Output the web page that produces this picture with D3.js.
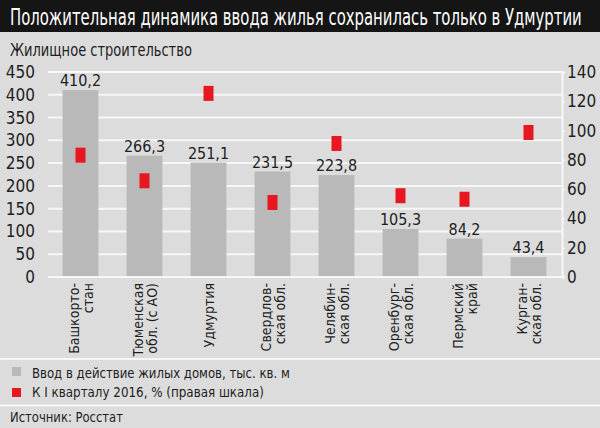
<!DOCTYPE html>
<html>
<head>
<meta charset="utf-8">
<script src="https://cdn.jsdelivr.net/npm/d3@7"></script>
<style>
  body { margin: 0; background: #dcdcdc; }
  text { font-family: "Liberation Sans Narrow", "DejaVu Sans Condensed", "Roboto", sans-serif; fill: #1e1e1e; }
</style>
</head>
<body>
<div id="chart"></div>
<script>
// regions, lines of the rotated label
let regions = [
    ["Башкорто-", "стан"],
    ["Тюменская", "обл. (с АО)"],
    ["Удмуртия"],
    ["Свердлов-", "ская обл."],
    ["Челябин-", "ская обл."],
    ["Оренбург-", "ская обл."],
    ["Пермский", "край"],
    ["Курган-", "ская обл."]
];
// housing put into service, thousand sq. m
let housing = [410.2, 266.3, 251.1, 231.5, 223.8, 105.3, 84.2, 43.4];
// % of Q1 2016 (right scale)
let percent = [83.2, 65.7, 125.4, 50.9, 91.2, 55.5, 53.1, 98.7];
let leftTicks = [0, 50, 100, 150, 200, 250, 300, 350, 400, 450];
let rightTicks = [0, 20, 40, 60, 80, 100, 120, 140];
let housingLabels = ["410,2", "266,3", "251,1", "231,5", "223,8", "105,3", "84,2", "43,4"];

let svgWidth = 600, svgHeight = 428;
let svg = d3.select("#chart").append("svg")
    .attr("width", svgWidth)
    .attr("height", svgHeight);

svg.append("rect").attr("width", svgWidth).attr("height", svgHeight).attr("fill", "#dcdcdc");

// squeeze a text horizontally so it takes the width seen in the picture
let fitText = function (px, py, size, w, str, color) {
    let t = svg.append("text")
        .attr("x", 0).attr("y", 0)
        .attr("style", "font-size:" + size + "px" + (color ? ";fill:" + color : ""))
        .text(str);
    let k = w / t.node().getComputedTextLength();
    t.attr("transform", "translate(" + px + "," + py + ") scale(" + k + ",1)");
    return t;
};

// title band
svg.append("rect").attr("width", svgWidth).attr("height", 32).attr("fill", "#151515");
fitText(10, 25, 23, 572, "Положительная динамика ввода жилья сохранилась только в Удмуртии", "#ffffff");
fitText(10, 56, 17.5, 182, "Жилищное строительство");

let x = d3.scaleBand().domain(d3.range(regions.length)).range([48.5, 560.5]).paddingInner(0.44).paddingOuter(0.22);
let yLeft = d3.scaleLinear().domain([0, 450]).range([277, 72]);
let yRight = d3.scaleLinear().domain([0, 140]).range([277, 72]);

// gridlines
svg.append("g")
    .selectAll("line")
    .data(leftTicks)
    .enter().append("line")
    .attr("x1", 48).attr("x2", 562)
    .attr("y1", d => yLeft(d)).attr("y2", d => yLeft(d))
    .attr("stroke", "#f7f7f7").attr("stroke-width", 2);

// left axis labels
let leftAxis = svg.append("g")
    .attr("transform", "translate(35,0)")
    .call(d3.axisLeft(yLeft).tickValues(leftTicks).tickSize(0).tickPadding(0));
leftAxis.select(".domain").remove();
leftAxis.selectAll("text").attr("style", "font-size:17px").attr("font-family", null);

// right axis
let rightAxis = svg.append("g")
    .attr("transform", "translate(562,0)")
    .call(d3.axisRight(yRight).tickValues(rightTicks).tickSize(3).tickPadding(2));
rightAxis.select(".domain").attr("stroke", "#f7f7f7").attr("stroke-width", 2);
rightAxis.selectAll("line").attr("stroke", "#f7f7f7").attr("stroke-width", 1.5);
rightAxis.selectAll("text").attr("style", "font-size:17px").attr("font-family", null);

// bars
svg.selectAll(".housingBar")
    .data(housing)
    .enter().append("rect")
    .attr("class", "housingBar")
    .attr("fill", "#b9b9b9")
    .attr("x", (d, i) => x(i))
    .attr("y", d => yLeft(d))
    .attr("width", x.bandwidth())
    .attr("height", d => yLeft(0) - yLeft(d));

// baseline
svg.append("line")
    .attr("x1", 48).attr("x2", 562)
    .attr("y1", yLeft(0)).attr("y2", yLeft(0))
    .attr("stroke", "#f7f7f7").attr("stroke-width", 2);

// value labels
svg.selectAll(".housingLabel")
    .data(housing)
    .enter().append("text")
    .attr("class", "housingLabel")
    .attr("x", (d, i) => x(i) + x.bandwidth() / 2)
    .attr("y", d => yLeft(d) - 4)
    .attr("text-anchor", "middle")
    .attr("style", "font-size:16px")
    .text((d, i) => housingLabels[i]);

// percent markers
svg.selectAll(".pctMark")
    .data(percent)
    .enter().append("rect")
    .attr("class", "pctMark")
    .attr("fill", "#e8161e")
    .attr("x", (d, i) => x(i) + x.bandwidth() / 2 - 5)
    .attr("y", d => yRight(d) - 7.5)
    .attr("width", 10)
    .attr("height", 15);

// rotated region labels
regions.forEach(function (lines, i) {
    let cx = x(i) + x.bandwidth() / 2;
    let t = svg.append("text")
        .attr("transform", "translate(" + cx + ",283) rotate(-90)")
        .attr("text-anchor", "end")
        .attr("style", "font-size:14px");
    let off = lines.length == 1 ? 5 : -2;
    lines.forEach(function (l, j) {
        t.append("tspan")
            .attr("x", 0)
            .attr("y", off + j * 14)
            .text(l);
    });
});

// legend
svg.append("line").attr("x1", 0).attr("x2", svgWidth).attr("y1", 359).attr("y2", 359)
    .attr("stroke", "#f7f7f7").attr("stroke-width", 2);
svg.append("line").attr("x1", 0).attr("x2", svgWidth).attr("y1", 405.5).attr("y2", 405.5)
    .attr("stroke", "#f7f7f7").attr("stroke-width", 2);

svg.append("rect").attr("x", 12).attr("y", 367).attr("width", 9).attr("height", 9).attr("fill", "#b9b9b9");
fitText(32, 377.5, 14, 258, "Ввод в действие жилых домов, тыс. кв. м");

svg.append("rect").attr("x", 12).attr("y", 388).attr("width", 9).attr("height", 9).attr("fill", "#e8161e");
fitText(32, 397, 14, 232, "К I кварталу 2016, % (правая шкала)");

fitText(10, 421.5, 14, 113, "Источник: Росстат");
</script>
</body>
</html>
